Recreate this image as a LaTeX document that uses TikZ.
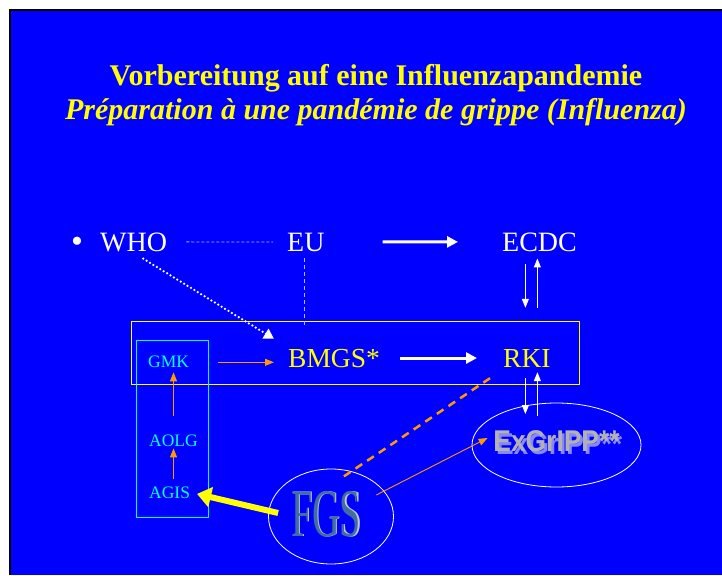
\documentclass[tikz,border=0pt]{standalone}
\usepackage{fontspec}
\setmainfont{Liberation Serif}
\newfontfamily\exfont{Liberation Sans}
\usetikzlibrary{arrows.meta,shapes.geometric,calc}
\definecolor{bg}{RGB}{0,0,255}
\definecolor{ttl}{RGB}{255,255,0}
\definecolor{cy}{RGB}{0,255,255}
\definecolor{org}{RGB}{255,153,0}
\definecolor{steel}{RGB}{65,110,160}
\definecolor{silver}{RGB}{195,200,210}
\definecolor{exgrey}{RGB}{178,178,178}
\definecolor{exshadow}{RGB}{135,135,255}
\definecolor{dashblue}{RGB}{185,185,255}
\begin{document}
\begin{tikzpicture}[x=1pt,y=-1pt,
 lbl/.style={inner sep=0pt, anchor=base west, text=white, font=\fontsize{28}{30}\selectfont},
 ylbl/.style={lbl, text=ttl, font=\fontsize{27.5}{30}\selectfont},
 clbl/.style={lbl, text=cy, font=\fontsize{17.5}{20}\selectfont},
 titlestyle/.style={inner sep=0pt, anchor=base, text=ttl},
 whitearrow/.style={draw=white, line width=3pt, -{Triangle[length=11pt,width=11pt]}},
 thinwhite/.style={draw=white, line width=1pt, -{Triangle[length=9pt,width=7pt]}},
 orangearrow/.style={draw=org, line width=0.9pt, -{Triangle[length=9pt,width=7pt]}},
 yellowarrow/.style={draw=ttl, line width=6pt, -{Triangle[length=14pt,width=20pt]}},
 orangedash/.style={draw=org, line width=2.5pt, dash pattern=on 8pt off 6pt},
 whitedots/.style={draw=white, line width=2.5pt, line cap=round, dash pattern=on 0pt off 4pt, -{Triangle[length=10pt,width=11pt]}},
 thindash/.style={draw=dashblue, line width=0.9pt, dash pattern=on 3pt off 2pt},
 eudash/.style={draw=dashblue, line width=0.7pt, dash pattern=on 4pt off 3pt},
 ellipsebox/.style={draw=white, ellipse, line width=0.8pt, inner sep=0pt},
]
\useasboundingbox (0,0) rectangle (722,575);
\fill[white] (0,0) rectangle (722,575);
\fill[black] (9,9) rectangle (722,575);
\fill[bg] (11,11) rectangle (722,575);

% title
\node[titlestyle, font=\fontsize{30}{32}\selectfont\bfseries] (t1) at (376,86) {Vorbereitung auf eine Influenzapandemie};
\node[titlestyle, font=\fontsize{30}{32}\selectfont\bfseries\itshape] (t2) at (376,119) {Préparation à une pandémie de grippe (Influenza)};

% frames
\draw[ttl, line width=1pt] (131,321) rectangle (579,384);
\draw[cy, line width=1pt] (136.5,340) rectangle (208.5,517);

% labels
\node[inner sep=0pt, text=white, font=\fontsize{34}{34}\selectfont] (bul) at (77,245) {•};
\node[lbl] (who) at (100,251) {WHO};
\node[lbl] (eu) at (287,251) {EU};
\node[lbl] (ecdc) at (502,251) {ECDC};
\node[ylbl] (bmgs) at (288,367) {BMGS*};
\node[ylbl] (rki) at (503,367) {RKI};
\node[clbl] (gmk) at (148,367) {GMK};
\node[clbl] (aolg) at (149,446) {AOLG};
\node[clbl] (agis) at (149,498) {AGIS};

% ellipses
\node[ellipsebox, minimum width=125pt, minimum height=95pt] (fgs) at (331,516.5) {};
\node[inner sep=0pt, font=\fontsize{68}{68}\selectfont] (fgstext) at ([xshift=-5pt,yshift=2pt]fgs.center)
  {\scalebox{0.56}[1]{\rlap{\kern2.5pt\textcolor{silver}{FGS}}\textcolor{steel}{FGS}}};
\node[ellipsebox, minimum width=169pt, minimum height=84pt] (ex) at (556.5,445) {};
\node[inner sep=0pt, font=\exfont\bfseries\fontsize{30}{30}\selectfont] (extext) at ([yshift=2pt]ex.center)
  {\scalebox{0.88}[1]{\rlap{\kern3pt\raisebox{-3pt}{\textcolor{exshadow}{ExGrIPP**}}}\textcolor{exgrey}{ExGrIPP**}}};

% connectors
\draw[thindash, shorten <=19pt, shorten >=14pt] (who.east) -- (eu.west);
\draw[whitearrow, shorten <=58pt, shorten >=44pt] (eu.east) -- (ecdc.west);
\coordinate (eutail) at (304,327);
\draw[eudash, shorten <=7pt] ([xshift=-1.5pt]eu.south) -- ([xshift=-1.5pt]eu.south |- eutail);
\draw[whitedots] ([xshift=9.5pt,yshift=-7pt]who.south) -- ([xshift=-14pt,yshift=9.8pt]bmgs.north west);
\draw[whitearrow, shorten <=20pt, shorten >=26pt] (bmgs.east) -- (bmgs.east -| rki.west);
\draw[orangearrow, shorten <=29pt, shorten >=14pt] ([yshift=-1pt]gmk.east) -- ([yshift=-1pt]gmk.east -| bmgs.west);
\draw[orangearrow, shorten <=18pt, shorten >=5pt] (aolg.north) -- (aolg.north |- gmk.south);
\draw[orangearrow, shorten <=7pt, shorten >=2pt] (aolg.south |- agis.north) -- (aolg.south);

\draw[thinwhite, shorten <=13pt, shorten >=41pt] ([xshift=-1.5pt]rki.north |- ecdc.south) -- ([xshift=-1.5pt]rki.north);
\draw[thinwhite, shorten <=41pt, shorten >=7pt] ([xshift=10.5pt]rki.north) -- ([xshift=10.5pt]rki.north |- ecdc.south);
\draw[thinwhite, shorten <=11pt, shorten >=31pt] ([xshift=-1.5pt]rki.south) -- ([xshift=-1.5pt]rki.south |- ex.center);
\draw[thinwhite, shorten <=29pt, shorten >=5pt] ([xshift=10.5pt]rki.south |- ex.center) -- ([xshift=10.5pt]rki.south);

\draw[orangedash] ([xshift=-13pt,yshift=-11pt]rki.south west) -- ([xshift=9pt,yshift=37.5pt]fgs.center);
\draw[orangearrow] ([xshift=-17.6pt,yshift=21.5pt]fgs.east) -- ([xshift=16pt,yshift=7pt]ex.west);
\draw[yellowarrow, shorten >=7pt] ([xshift=10pt,yshift=3.5pt]fgs.west) -- (agis.east);
\end{tikzpicture}
\end{document}
